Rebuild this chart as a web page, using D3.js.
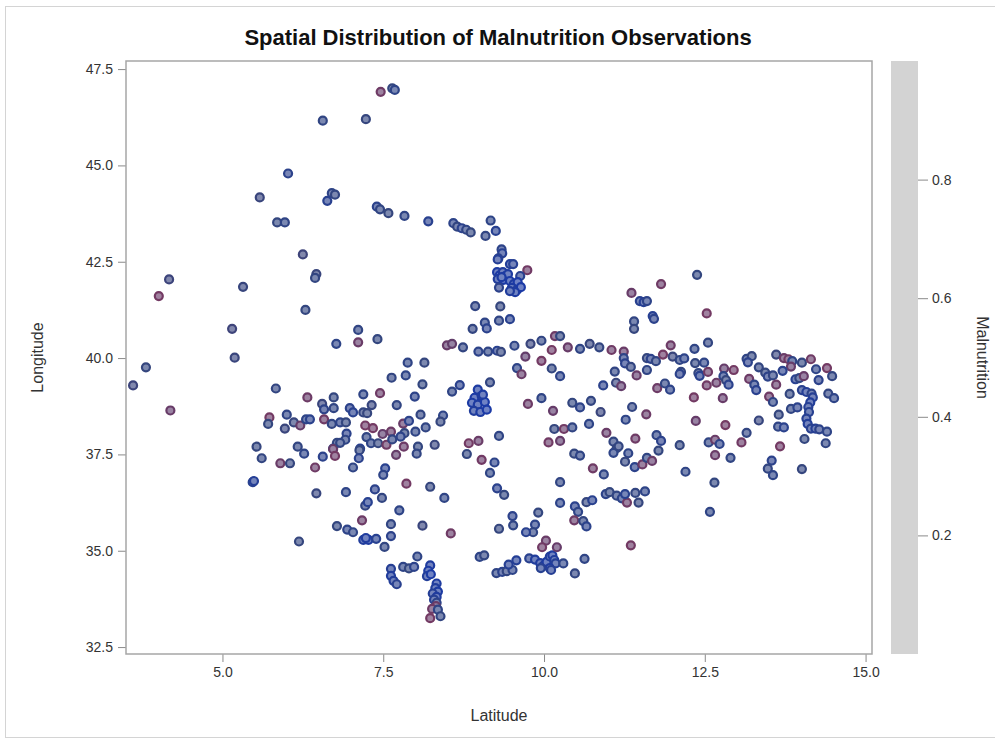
<!DOCTYPE html>
<html><head><meta charset="utf-8">
<script src="https://cdn.jsdelivr.net/npm/d3@7"></script>
<style>
body{margin:0;background:#fff;}
text{font-family:"Liberation Sans",Arial,sans-serif;}
</style>
</head><body>
<svg id="chart" width="995" height="743"></svg>
<script>
// ---- data (Latitude on x, Longitude on y, Malnutrition -> colour) ----
const latitude = [
6.56,7.23,6.02,5.58,6.70,6.75,6.63,5.85,5.97,6.25,
7.46,7.64,7.68,7.40,7.45,7.58,7.83,8.20,8.59,8.65,
8.72,8.79,8.86,9.17,9.25,9.09,9.34,9.35,9.29,6.46,
6.44,4.17,4.01,5.32,6.29,5.15,7.11,7.11,6.77,5.19,
3.81,3.61,5.83,4.19,6.32,6.73,7.19,6.55,6.58,6.73,
6.98,7.03,7.19,7.25,5.73,5.71,6.00,6.11,6.21,6.30,
6.36,6.58,6.70,6.83,6.92,5.97,7.22,5.53,6.17,6.93,
6.91,6.78,6.72,7.14,7.24,9.28,9.47,9.52,9.74,9.63,
9.27,9.31,9.36,9.40,9.28,9.37,9.44,9.34,
9.47,9.53,9.59,9.50,9.58,9.64,9.55,9.47,
9.30,8.93,9.32,9.08,9.11,8.89,9.30,9.47,7.41,8.49,
8.57,8.74,8.98,9.13,9.27,9.33,9.54,9.79,9.96,10.17,
10.25,10.12,10.37,10.56,10.71,10.86,11.05,9.71,9.96,9.58,
9.65,10.12,10.25,11.10,11.12,10.92,7.88,8.14,7.63,7.85,
8.11,7.45,7.99,7.71,7.32,8.57,8.69,9.16,
8.97,8.92,9.03,8.88,8.97,9.08,8.91,9.01,9.11,9.05,
9.96,9.75,10.14,10.44,10.56,10.73,10.88,10.70,10.16,10.31,10.44,10.97,
8.08,8.43,8.39,7.81,7.90,8.16,7.34,7.62,7.49,7.83,8.00,
7.31,7.42,7.55,7.64,7.77,8.04,8.30,8.83,8.98,9.30,10.07,10.25,11.08,
12.38,11.82,11.36,11.49,11.55,11.60,11.40,11.40,11.69,11.71,12.53,12.55,11.97,12.34,
11.24,11.24,11.26,11.35,11.60,11.66,11.74,11.85,12.00,12.11,12.18,12.35,12.49,
11.60,11.44,12.13,12.11,12.40,12.42,12.55,12.80,12.95,12.79,12.83,12.87,12.68,12.53,11.20,11.76,11.88,11.96,12.33,12.78,
11.37,11.27,11.59,12.36,12.82,11.13,11.42,11.75,11.82,12.11,12.56,12.66,12.73,13.07,13.15,13.34,
13.15,13.23,13.17,13.34,13.19,13.27,13.30,13.44,13.48,13.56,13.61,13.73,13.80,13.86,13.84,13.71,14.01,14.15,14.23,14.40,14.48,14.27,13.91,13.97,14.04,13.61,
13.50,13.56,13.82,14.01,14.08,14.16,14.18,14.42,14.51,14.14,14.11,14.12,13.84,13.94,13.65,13.64,13.73,14.08,14.10,14.15,14.22,14.28,14.40,14.05,14.38,13.67,
5.61,5.90,6.05,6.27,6.44,6.56,6.72,6.75,6.83,7.13,7.12,7.03,5.47,5.49,6.46,6.92,7.22,7.26,7.17,6.78,6.94,7.03,7.19,7.27,7.23,6.19,
7.82,8.02,7.70,8.80,9.03,9.23,9.16,7.53,7.50,7.86,8.23,7.37,7.48,8.45,9.27,9.38,7.75,7.62,8.11,8.55,7.62,7.52,7.39,8.03,
7.81,7.90,7.98,7.62,7.62,7.66,7.71,8.23,8.20,8.18,8.24,8.33,8.31,8.35,8.27,8.33,8.29,8.33,8.32,8.26,8.35,8.23,8.39,
9.00,9.07,9.30,9.51,9.52,9.91,9.86,9.83,9.72,9.26,9.35,9.42,9.51,9.45,9.57,9.77,9.86,9.94,9.99,10.04,10.09,10.13,10.16,10.18,10.09,10.11,9.95,10.30,10.03,9.97,10.20,10.48,10.63,
10.25,10.25,10.47,10.56,10.48,10.53,10.47,10.61,10.66,10.66,10.75,10.76,10.93,10.96,11.02,11.13,11.08,
11.16,11.31,11.26,11.41,11.53,11.60,11.68,11.78,12.20,11.21,11.29,11.26,11.42,11.57,11.47,11.35,12.66,12.90,12.65,12.58,13.54,13.48,13.56,14.01
];
const longitude = [
46.16,46.20,44.79,44.17,44.28,44.24,44.08,43.52,43.52,42.69,
46.91,47.00,46.96,43.93,43.86,43.76,43.69,43.55,43.50,43.41,
43.37,43.33,43.26,43.57,43.30,43.17,42.82,42.72,42.59,42.18,
42.08,42.04,41.61,41.85,41.25,40.76,40.73,40.41,40.37,40.01,
39.76,39.29,39.21,38.64,38.98,38.98,39.06,38.81,38.67,38.70,
38.70,38.59,38.59,38.57,38.46,38.29,38.53,38.33,38.25,38.41,
38.41,38.41,38.29,38.33,38.33,38.17,38.25,37.70,37.70,38.04,
37.88,37.80,37.65,37.65,37.95,42.56,42.44,42.44,42.28,42.13,
42.23,42.15,42.23,42.13,42.05,42.03,42.18,42.10,
42.00,41.92,41.97,41.82,41.77,41.84,41.71,41.74,
41.83,41.35,41.34,40.92,40.77,40.76,40.97,41.01,40.49,40.33,
40.37,40.28,40.17,40.17,40.19,40.16,40.32,40.37,40.45,40.57,
40.57,40.21,40.28,40.24,40.37,40.28,40.21,40.04,39.93,39.74,
39.58,39.73,39.53,39.65,39.36,39.29,39.88,39.88,39.49,39.55,
39.32,39.09,39.00,38.78,38.78,39.13,39.30,39.37,
39.18,38.97,39.02,38.84,38.79,38.86,38.63,38.60,38.66,39.05,
38.96,38.81,38.63,38.84,38.72,38.89,38.60,38.29,38.16,38.16,38.20,38.06,
38.53,38.51,38.35,38.30,38.37,38.20,38.18,38.09,38.03,38.05,38.09,
37.79,37.79,37.75,37.89,37.96,37.70,37.75,37.79,37.85,37.98,37.81,37.85,37.83,
42.16,41.92,41.69,41.48,41.45,41.48,40.95,40.76,41.09,41.02,41.16,40.40,40.33,40.24,
40.17,40.00,39.86,39.77,40.00,39.98,39.92,40.09,40.04,39.95,39.99,39.87,39.88,
39.69,39.55,39.64,39.59,39.61,39.54,39.64,39.73,39.69,39.53,39.43,39.31,39.36,39.29,39.27,39.22,39.34,39.18,38.98,38.96,
38.73,38.40,38.54,38.37,38.26,37.66,37.91,38.00,37.85,37.74,37.81,37.88,37.77,37.81,38.06,38.38,
39.98,40.05,39.89,39.76,39.46,39.31,39.17,39.62,39.52,39.55,40.09,40.00,39.97,39.92,39.78,39.67,39.88,39.97,39.71,39.74,39.53,39.43,39.45,39.48,39.53,39.31,
39.00,38.86,39.07,39.17,39.12,39.08,38.98,39.08,38.96,38.85,38.73,38.60,38.68,38.72,38.53,38.22,38.20,38.43,38.29,38.17,38.17,38.15,38.09,37.90,37.79,37.71,
37.40,37.27,37.27,37.52,37.16,37.44,37.64,37.46,37.80,37.61,37.40,37.16,36.78,36.81,36.49,36.52,36.17,36.26,35.79,35.64,35.55,35.48,35.28,35.28,35.33,35.24,
37.70,37.52,37.49,37.51,37.36,37.29,37.02,37.14,36.97,36.74,36.66,36.59,36.37,36.37,36.62,36.45,36.05,35.69,35.65,35.45,35.38,35.10,35.31,34.85,
34.58,34.54,34.58,34.53,34.35,34.22,34.13,34.62,34.48,34.34,34.39,34.15,34.03,33.94,33.89,33.80,33.73,33.65,33.56,33.49,33.47,33.25,33.30,
34.84,34.88,35.57,35.90,35.66,35.99,35.68,35.48,35.48,34.42,34.45,34.47,34.50,34.64,34.75,34.80,34.77,34.68,34.61,34.71,34.85,34.88,34.76,34.67,34.55,34.50,34.55,34.67,35.26,35.09,35.09,34.41,34.79,
36.78,36.24,37.52,37.47,36.15,36.01,35.79,35.77,35.63,36.26,36.31,37.14,36.98,36.47,36.52,36.43,37.54,
37.71,37.53,37.31,37.17,37.24,37.41,37.33,37.60,37.05,36.36,36.25,36.47,36.50,36.54,36.25,35.14,37.48,37.41,36.77,36.01,37.34,37.13,36.96,37.12
];
const malnutrition = [
.28,.31,.24,.33,.26,.29,.22,.30,.27,.35,
.58,.30,.26,.24,.28,.31,.27,.22,.25,.29,
.23,.27,.30,.26,.21,.28,.25,.20,.24,.33,
.29,.34,.61,.32,.30,.35,.28,.56,.26,.33,
.31,.34,.29,.55,.57,.30,.27,.33,.25,.28,
.24,.22,.29,.31,.60,.30,.27,.32,.54,.26,
.23,.58,.28,.25,.30,.33,.62,.31,.29,.24,
.27,.30,.26,.22,.28,.18,.16,.20,.59,.22,
.12,.10,.14,.11,.15,.09,.13,.12,
.11,.13,.10,.12,.14,.09,.12,.15,
.24,.28,.31,.26,.23,.29,.27,.22,.30,.55,
.52,.29,.25,.27,.22,.31,.26,.33,.28,.57,
.30,.60,.55,.27,.32,.29,.58,.53,.61,.26,
.56,.30,.25,.28,.33,.24,.27,.31,.29,.26,
.30,.58,.25,.28,.32,.27,.23,.29,
.12,.10,.14,.11,.13,.09,.15,.12,.10,.13,
.27,.57,.54,.30,.25,.29,.33,.26,.31,.59,.28,.56,
.29,.26,.31,.55,.24,.28,.60,.57,.53,.30,.27,
.26,.31,.58,.28,.25,.30,.33,.61,.56,.27,.59,.54,.29,
.30,.58,.55,.22,.19,.25,.28,.31,.20,.24,.60,.29,.57,.27,
.56,.26,.23,.29,.31,.24,.28,.60,.33,.27,.25,.30,.26,
.27,.55,.30,.24,.29,.22,.58,.54,.61,.26,.31,.23,.56,.59,.53,.57,.28,.25,.60,.55,
.29,.26,.57,.54,.60,.31,.58,.27,.24,.30,.28,.56,.25,.59,.29,.32,
.27,.31,.24,.29,.57,.26,.22,.30,.25,.28,.33,.56,.59,.27,.54,.23,.30,.58,.26,.61,.29,.24,.21,.28,.55,.57,
.58,.27,.30,.22,.18,.25,.20,.29,.26,.16,.19,.21,.28,.24,.31,.27,.23,.20,.17,.22,.19,.24,.26,.30,.28,.60,
.29,.56,.31,.26,.58,.24,.55,.61,.28,.30,.23,.27,.22,.18,.32,.26,.29,.21,.57,.30,.25,.27,.15,.13,.14,.31,
.57,.28,.54,.30,.59,.25,.27,.22,.26,.60,.31,.24,.29,.27,.23,.30,.26,.28,.33,.58,.24,.29,.21,.27,
.26,.30,.24,.19,.15,.17,.22,.14,.12,.16,.11,.13,.15,.12,.18,.14,.20,.25,.55,.58,.27,.60,.29,
.26,.29,.31,.24,.27,.30,.25,.28,.22,.27,.23,.29,.25,.20,.18,.22,.15,.14,.17,.12,.16,.13,.15,.18,.14,.19,.21,.26,.56,.59,.54,.29,.27,
.28,.25,.30,.27,.23,.26,.57,.29,.24,.31,.22,.58,.27,.25,.30,.28,.26,
.29,.26,.31,.24,.57,.28,.55,.30,.27,.25,.58,.22,.29,.26,.31,.60,.56,.28,.30,.27,.24,.29,.26,.31
];
const xTicks = [5.0, 7.5, 10.0, 12.5, 15.0];
const yTicks = [32.5, 35.0, 37.5, 40.0, 42.5, 45.0, 47.5];
const colorTicks = [0.2, 0.4, 0.6, 0.8];
const title = "Spatial Distribution of Malnutrition Observations";

// ---- layout ----
const svg = d3.select("#chart");
const L = 126, R = 872, T = 61, B = 654;
const x = d3.scaleLinear().domain([3.5, 15.1]).range([L, R]);
const y = d3.scaleLinear().domain([32.32, 47.71]).range([B, T]);
const c = d3.scaleLinear().domain([0, 1]).range([B, T]);
const color = d3.scaleLinear().domain([0.1, 0.3, 0.6]).range(["#1b3aa6", "#33467f", "#733a63"]).clamp(true);

// outer frame
svg.append("rect").attr("x", 5.5).attr("y", 6.5).attr("width", 1000).attr("height", 731)
  .attr("fill", "none").attr("stroke", "#d4d4d4");

// title
svg.append("text").attr("x", 498).attr("y", 45).attr("text-anchor", "middle")
  .attr("font-size", 22).attr("font-weight", "bold").attr("fill", "#111").text(title);

// axes
const gx = svg.append("g").attr("transform", `translate(0,${B})`)
  .call(d3.axisBottom(x).tickValues(xTicks).tickFormat(d3.format(".1f")).tickSize(8).tickPadding(5).tickSizeOuter(0));
const gy = svg.append("g").attr("transform", `translate(${L},0)`)
  .call(d3.axisLeft(y).tickValues(yTicks).tickFormat(d3.format(".1f")).tickSize(8).tickPadding(5).tickSizeOuter(0));
[gx, gy].forEach(g => {
  g.select(".domain").remove();
  g.selectAll(".tick line").attr("stroke", "#8a8a8a");
  g.selectAll(".tick text").attr("font-size", 14).attr("fill", "#333")
    .style("font-family", "'Liberation Sans', Arial, sans-serif");
});

// plot frame
svg.append("rect").attr("x", L).attr("y", T).attr("width", R - L).attr("height", B - T)
  .attr("fill", "none").attr("stroke", "#a6a6a6").attr("stroke-width", 1.5);

// axis labels
svg.append("text").attr("x", (L + R) / 2).attr("y", 721).attr("text-anchor", "middle")
  .attr("font-size", 16).attr("fill", "#333").text("Latitude");
svg.append("text").attr("transform", `translate(43,${(T + B) / 2}) rotate(-90)`).attr("text-anchor", "middle")
  .attr("font-size", 16).attr("fill", "#333").text("Longitude");

// points
const idx = d3.range(latitude.length);
svg.append("g").selectAll("circle").data(idx).join("circle")
  .attr("cx", i => x(latitude[i]))
  .attr("cy", i => y(longitude[i]))
  .attr("r", 4)
  .attr("fill", i => d3.interpolateRgb(color(malnutrition[i]), "#d6daea")(0.45))
  .attr("stroke", i => color(malnutrition[i]))
  .attr("stroke-width", 2.2);

// colour bar (rendered flat grey as in the reference)
svg.append("rect").attr("x", 891).attr("y", T).attr("width", 27).attr("height", B - T).attr("fill", "#d3d3d3");
const gc = svg.append("g").attr("transform", "translate(918,0)")
  .call(d3.axisRight(c).tickValues(colorTicks).tickFormat(d3.format(".1f")).tickSize(10).tickPadding(4));
gc.select(".domain").remove();
gc.selectAll(".tick line").attr("stroke", "#8a8a8a");
gc.selectAll(".tick text").attr("font-size", 14).attr("fill", "#333")
  .style("font-family", "'Liberation Sans', Arial, sans-serif");
svg.append("text").attr("transform", `translate(977,${(T + B) / 2}) rotate(90)`).attr("text-anchor", "middle")
  .attr("font-size", 16).attr("fill", "#333").text("Malnutrition");
</script>
</body></html>
